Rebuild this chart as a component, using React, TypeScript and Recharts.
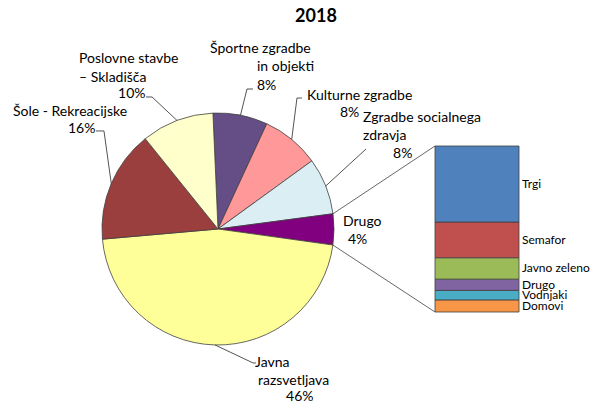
import { PieChart, Pie, Cell, BarChart, Bar, XAxis, YAxis } from 'recharts'

const SECTORS = [
  'Športne zgradbe in objekti',
  'Kulturne zgradbe',
  'Zgradbe socialnega zdravja',
  'Drugo',
  'Javna razsvetljava',
  'Šole - Rekreacijske',
  'Poslovne stavbe – Skladišča',
]
const SECTOR_VALUES = [7.6, 8.1, 7.9, 4.3, 46.4, 15.6, 10.1]
const SECTOR_LINES = [
  ['Športne zgradbe', 'in objekti'],
  ['Kulturne zgradbe'],
  ['Zgradbe socialnega', 'zdravja'],
  ['Drugo'],
  ['Javna', 'razsvetljava'],
  ['Šole - Rekreacijske'],
  ['Poslovne stavbe', '– Skladišča'],
]

// second plot: what "Drugo" is made of (bottom to top)
const DRUGO_ITEMS = ['Domovi', 'Vodnjaki', 'Drugo', 'Javno zeleno', 'Semafor', 'Trgi']
const DRUGO_VALUES = [7.3, 5.7, 6.8, 12.9, 21.5, 45.8]

const PIE_COLORS = ['#654D86', '#FF9999', '#DBEEF4', '#800080', '#FFFF99', '#9A3E3E', '#FFFFCC']
const BAR_COLORS = ['#F79646', '#4BACC6', '#8064A2', '#9BBB59', '#C0504D', '#4F81BD']

const W = 592
const H = 403
const CX = 218
const CY = 229
const R = 116
const BAR_LEFT = 435
const BAR_RIGHT = 519
const BAR_TOP = 146
const BAR_BOTTOM = 312
const FONT = 'Lato, "Open Sans", sans-serif'
const LINE_COLOR = '#404040'

// label layout, offsets from the slice's outer edge point at mid angle
// leader: polyline points, text: one offset per line (+ the percent line last)
const LABEL_LAYOUT = [
  { leader: [[6.5, -26.2], [12.5, -26.2]], text: [[-30.5, -62.2], [16.5, -44.2], [16.5, -25.2]] },
  { leader: [[5.3, -41.4], [10.3, -41.4]], text: [[15.3, -39.4], [48.3, -22.4]] },
  { leader: [[40.3, -37]], text: [[37.3, -64], [37.3, -46], [67.3, -28]] },
  { leader: [], text: [[9, -3.4], [14, 14.6]] },
  { leader: [[38, 18], [41, 18]], text: [[40, 22.5], [43, 40], [71, 56]] },
  { leader: [[-7.3, -52.6], [-15.3, -52.6]], text: [[-98.3, -67.6], [-43.3, -50.6]] },
  { leader: [[-25, -23.5], [-31, -23.5]], text: [[-98, -57.5], [-98, -38.5], [-59, -22]] },
]

const RAD = Math.PI / 180
const edge = (cx: number, cy: number, r: number, a: number) => [cx + r * Math.cos(a * RAD), cy - r * Math.sin(a * RAD)]

const pieData = SECTORS.map((name, i) => ({ name, value: SECTOR_VALUES[i] }))
const barRow: Record<string, any> = { name: 'Drugo' }
DRUGO_ITEMS.forEach((k, i) => { barRow[k] = DRUGO_VALUES[i] })

function PieLabel(props: any) {
  const { cx, cy, outerRadius, midAngle, percent, index } = props
  const layout = LABEL_LAYOUT[index]
  const [px, py] = edge(cx, cy, outerRadius, midAngle)
  const lines = [...SECTOR_LINES[index], `${Math.round(percent * 100)}%`]
  const pts = [[px, py], ...layout.leader.map(([dx, dy]) => [px + dx, py + dy])]
  let connectors = null
  if (SECTORS[index] === 'Drugo') {
    const half = percent * 180
    const [tx, ty] = edge(cx, cy, outerRadius, midAngle + half)
    const [bx, by] = edge(cx, cy, outerRadius, midAngle - half)
    connectors = (
      <g>
        <line x1={tx} y1={ty} x2={BAR_LEFT} y2={BAR_TOP} stroke={LINE_COLOR} strokeWidth={0.8} />
        <line x1={bx} y1={by} x2={BAR_LEFT} y2={BAR_BOTTOM} stroke={LINE_COLOR} strokeWidth={0.8} />
      </g>
    )
  }
  return (
    <g>
      {connectors}
      {pts.length > 1 && (
        <polyline points={pts.map(p => p.join(',')).join(' ')} fill="none" stroke={LINE_COLOR} strokeWidth={0.9} />
      )}
      {lines.map((t, i) => (
        <text key={i} x={px + layout.text[i][0]} y={py + layout.text[i][1]} fontFamily={FONT} fontSize={14} fill="#000" textAnchor="start">
          {t}
        </text>
      ))}
    </g>
  )
}

const barLabel = (name: string) => (p: any) => (
  <text x={p.x + p.width + 3} y={p.y + p.height / 2 + 4} fontFamily={FONT} fontSize={12} fill="#000">
    {name}
  </text>
)

export default function App() {
  return (
    <div style={{ position: 'absolute', left: 0, top: 0, width: W, height: H, background: '#fff' }}>
      <div style={{ position: 'absolute', left: 0, top: 0 }}>
        <PieChart width={W} height={H} margin={{ top: 0, right: 0, bottom: 0, left: 0 }}>
          <text x={316} y={22} textAnchor="middle" fontFamily={FONT} fontWeight={700} fontSize={18} fill="#000">2018</text>
          <Pie
            data={pieData}
            dataKey="value"
            cx={CX}
            cy={CY}
            outerRadius={R}
            startAngle={92.5}
            endAngle={-267.5}
            stroke={LINE_COLOR}
            strokeWidth={0.8}
            label={PieLabel}
            labelLine={false}
            isAnimationActive={false}
          >
            {pieData.map((d, i) => <Cell key={d.name} fill={PIE_COLORS[i]} />)}
          </Pie>
        </PieChart>
      </div>
      <div style={{ position: 'absolute', left: 0, top: 0 }}>
        <BarChart
          width={W}
          height={H}
          data={[barRow]}
          margin={{ top: BAR_TOP, right: W - BAR_RIGHT, bottom: H - BAR_BOTTOM, left: BAR_LEFT }}
          barCategoryGap={0}
        >
          <XAxis dataKey="name" hide />
          <YAxis hide domain={[0, 100]} />
          {DRUGO_ITEMS.map((k, i) => (
            <Bar
              key={k}
              dataKey={k}
              stackId="drugo"
              fill={BAR_COLORS[i]}
              stroke={LINE_COLOR}
              strokeWidth={0.8}
              label={barLabel(k)}
              isAnimationActive={false}
            />
          ))}
        </BarChart>
      </div>
    </div>
  )
}
